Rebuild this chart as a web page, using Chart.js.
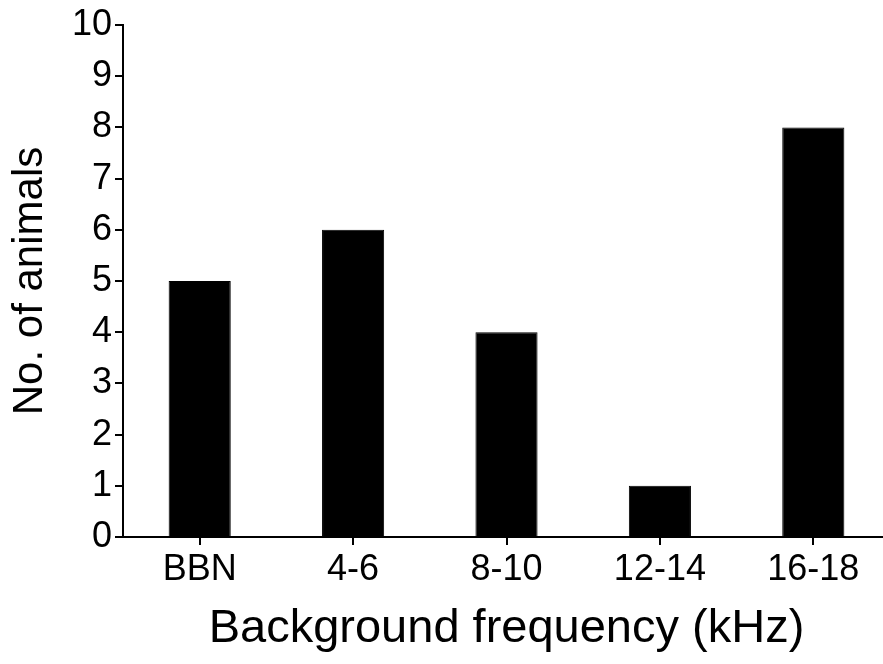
<!DOCTYPE html>
<html><head><meta charset="utf-8">
<script src="https://cdn.jsdelivr.net/npm/chart.js@4/dist/chart.umd.min.js"></script>
<style>html,body{margin:0;padding:0;background:#fff;overflow:hidden}#wrap{width:890px;height:664px}</style>
</head><body><div id="wrap"><canvas id="c" width="890" height="664"></canvas></div>
<script>
const categories = ["BBN", "4-6", "8-10", "12-14", "16-18"];
const animals = [5, 6, 4, 1, 8];
const yTicks = [0,1,2,3,4,5,6,7,8,9,10];
const xTitle = "Background frequency (kHz)";
const yTitle = "No. of animals";

const fam = "'Liberation Sans', Arial, sans-serif";
new Chart(document.getElementById('c'), {
  type: 'bar',
  data: {labels: categories, datasets: [{data: animals, backgroundColor: '#000', borderColor: '#000', borderWidth: 1, categoryPercentage: 1, barPercentage: 0.405}]},
  options: {
    responsive: false, animation: false, devicePixelRatio: 1,
    layout: {padding: {top: 25, right: 0, left: 0, bottom: 0}},
    plugins: {legend: {display: false}, tooltip: {enabled: false}},
    scales: {
      x: {
        grid: {display: true, offset: false, drawOnChartArea: false, drawTicks: true, tickLength: 8, color: '#000', lineWidth: 2},
        border: {display: true, color: '#000', width: 2},
        ticks: {color: '#000', font: {family: fam, size: 36}, padding: 3, maxRotation: 0},
        title: {display: true, text: xTitle, color: '#000', font: {family: fam, size: 47}, padding: {top: 10, bottom: 7}},
        afterFit: s => { s.height = 127; }
      },
      y: {
        min: 0, max: 10,
        afterBuildTicks: s => { s.ticks = yTicks.map(v => ({value: v})); },
        grid: {display: true, drawOnChartArea: false, drawTicks: true, tickLength: 8, color: '#000', lineWidth: 2},
        border: {display: true, color: '#000', width: 2},
        ticks: {color: '#000', font: {family: fam, size: 36}, padding: 3},
        title: {display: true, text: yTitle, color: '#000', font: {family: fam, size: 42}, padding: {top: 5, bottom: 4}},
        afterFit: s => { s.width = 123; }
      }
    }
  }
});
</script></body></html>
